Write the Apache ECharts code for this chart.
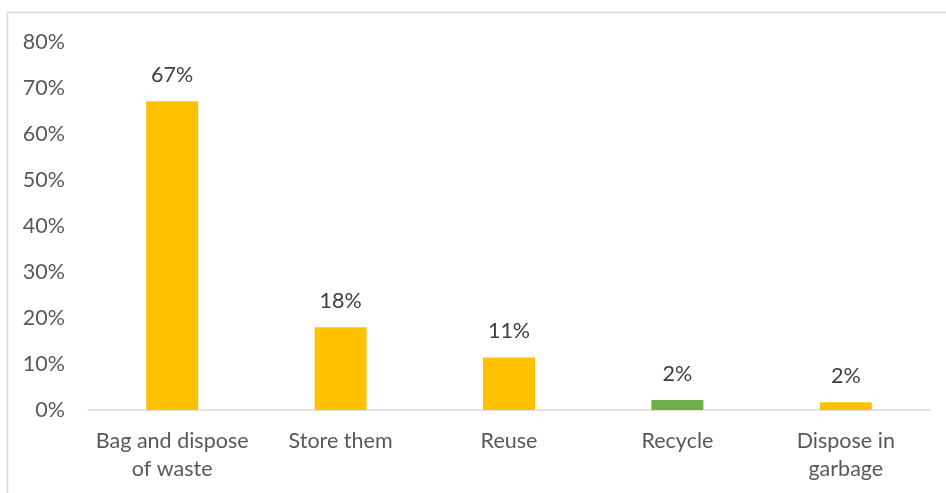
<!DOCTYPE html>
<html>
<head>
<meta charset="utf-8">
<script src="https://cdn.jsdelivr.net/npm/echarts@6/dist/echarts.min.js"></script>
<style>
  html, body { margin: 0; padding: 0; background: #fff; }
  #chart { width: 946px; height: 493px; }
</style>
</head>
<body>
<div id="chart"></div>
<script>
// Waste handling responses (share of respondents, %)
const categories = ['Bag and dispose\nof waste', 'Store them', 'Reuse', 'Recycle', 'Dispose in\ngarbage'];
const values = [67.1, 18.0, 11.4, 2.2, 1.7];
const barColors = ['#FFC000', '#FFC000', '#FFC000', '#70AD47', '#FFC000'];

const textColor = '#595959';
const fontFamily = 'Lato, "Open Sans", sans-serif';

const chart = echarts.init(document.getElementById('chart'));
chart.setOption({
  animation: false,
  backgroundColor: '#fff',
  graphic: [{
    type: 'rect',
    shape: { x: 7.5, y: 12.5, width: 1200, height: 1000 },
    style: { fill: 'none', stroke: '#D9D9D9', lineWidth: 1.5 },
    silent: true
  }],
  grid: { left: 88, right: 16, top: 42, bottom: 83 },
  xAxis: {
    type: 'category',
    data: categories,
    axisLine: { lineStyle: { color: '#D9D9D9', width: 1.5 } },
    axisTick: { show: false },
    axisLabel: {
      color: textColor, fontFamily, fontSize: 21.5, lineHeight: 28, margin: 17,
      interval: 0
    }
  },
  yAxis: {
    type: 'value',
    min: 0, max: 80, interval: 10,
    splitLine: { show: false },
    axisLine: { show: false },
    axisTick: { show: false },
    axisLabel: {
      color: textColor, fontFamily, fontSize: 21.5, margin: 23,
      formatter: v => v + '%'
    }
  },
  series: [{
    type: 'bar',
    barWidth: 52,
    data: values.map((v, i) => ({ value: v, itemStyle: { color: barColors[i] } })),
    label: {
      show: true, position: 'top', distance: 15,
      color: '#404040', fontFamily, fontSize: 21.5,
      formatter: p => Math.round(p.value) + '%'
    }
  }]
});
</script>
</body>
</html>
